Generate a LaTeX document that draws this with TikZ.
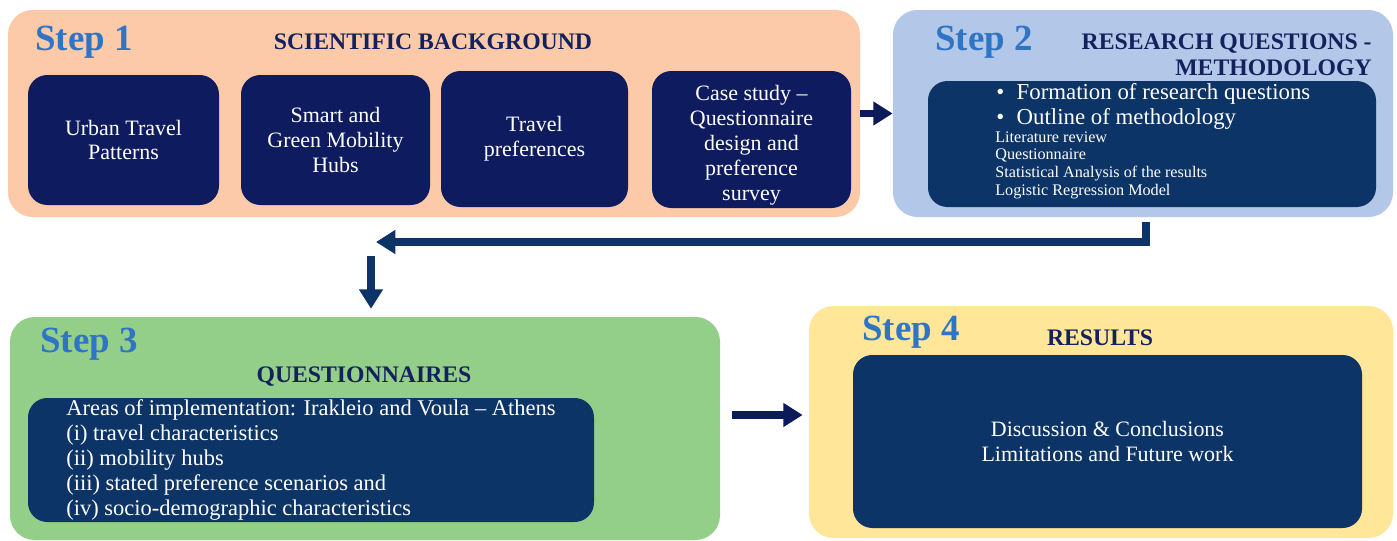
\documentclass[tikz,border=0pt]{standalone}
\usepackage{fontspec}
\setmainfont{Liberation Serif}
\usetikzlibrary{arrows.meta, positioning, fit, calc}
\definecolor{stepblue}{HTML}{2F75C5}
\definecolor{deepnavy}{HTML}{0E1B5E}
\definecolor{boxnavy}{HTML}{0D3466}
\definecolor{headnavy}{HTML}{14215C}
\definecolor{peachbg}{HTML}{FDCAA9}
\definecolor{skybg}{HTML}{B3C7E8}
\definecolor{greenbg}{HTML}{94CF8A}
\definecolor{yellowbg}{HTML}{FFE699}
\definecolor{arrownavy}{HTML}{0C1A5A}

\tikzset{
  phase/.style={rounded corners=14pt, inner sep=0pt, draw=none, fill=#1},
  tile/.style={rounded corners=11pt, inner sep=0pt, fill=#1},
  tiletext/.style={inner sep=0pt, text=white, align=center,
    font=\fontsize{12.5}{14.2}\selectfont},
  steplabel/.style={anchor=west, text=stepblue, inner sep=0pt,
    font=\bfseries\fontsize{21}{24}\selectfont},
  heading/.style={text=headnavy, inner sep=0pt, font=\bfseries\fontsize{13.5}{15.3}\selectfont},
  flowarrow/.style={draw=#1, line width=4.4pt, -{Triangle[length=11pt,width=13pt]}},
  flowarrow/.default=arrownavy,
}

\begin{document}
\begin{tikzpicture}[x=0.02cm, y=-0.02cm]
  \fill[white] (0,0) rectangle (1397,541);
  \useasboundingbox (0,0) rectangle (1397,541);

  % Step 1: scientific background
  \node[phase=peachbg, fit={(8,10) (860,217)}] (s1) {};
  \node[steplabel] (s1lbl) at (35,42) {Step 1};
  \node[heading] (s1head) at (433,42) {SCIENTIFIC BACKGROUND};
  \node[tile=deepnavy, fit={(28,75) (219,205)}] (urban) {};
  \node[tile=deepnavy, fit={(241,75) (430,205)}] (hubs) {};
  \node[tile=deepnavy, fit={(441,71) (628,207)}] (prefs) {};
  \node[tile=deepnavy, fit={(652,71) (851,208)}] (survey) {};
  \node[tiletext] at (urban) {Urban Travel\\Patterns};
  \node[tiletext] at (hubs) {Smart and\\Green Mobility\\Hubs};
  \node[tiletext] at (prefs) {Travel\\preferences};
  \node[tiletext] at ($(survey)+(0,6)$) {Case study --\\Questionnaire\\design and\\preference\\survey};

  % Step 2: research questions and methodology
  \node[phase=skybg, fit={(893,10) (1393,217)}] (s2) {};
  \node[steplabel] (s2lbl) at (935,42) {Step 2};
  \node[heading, anchor=north east, align=right] (s2head) at (1372,33)
    {RESEARCH QUESTIONS -\\METHODOLOGY};
  \node[tile=boxnavy, fit={(928,81) (1376,207)}] (method) {};
  \node[anchor=north west, inner sep=0pt, text=white, align=left,
    font=\fontsize{13}{14.2}\selectfont] (bullets) at (996,83)
    {\textbullet\hspace{7pt}Formation of research questions\\
     \textbullet\hspace{7pt}Outline of methodology};
  \node[anchor=north west, inner sep=0pt, text=white, align=left,
    font=\fontsize{9.2}{10.2}\selectfont] (steps) at (995,131)
    {Literature review\\Questionnaire\\Statistical Analysis of the results\\Logistic Regression Model};

  % Step 3: questionnaires
  \node[phase=greenbg, fit={(10,317) (720,540)}] (s3) {};
  \node[steplabel] (s3lbl) at (40,344) {Step 3};
  \node[heading] (s3head) at (364,377) {QUESTIONNAIRES};
  \node[tile=boxnavy, fit={(28,398) (594,522)}] (areas) {};
  \node[tiletext, align=left, font=\fontsize{12.8}{14.2}\selectfont] at (areas)
    {Areas of implementation: Irakleio and Voula -- Athens\\
     (i) travel characteristics\\
     (ii) mobility hubs\\
     (iii) stated preference scenarios and\\
     (iv) socio-demographic characteristics};

  % Step 4: results
  \node[phase=yellowbg, fit={(809,306) (1393,538)}] (s4) {};
  \node[steplabel] (s4lbl) at (862,332) {Step 4};
  \node[heading] (s4head) at (1100,338) {RESULTS};
  \node[tile=boxnavy, fit={(853,355) (1362,528)}] (results) {};
  \node[tiletext] at (results) {Discussion \& Conclusions\\Limitations and Future work};

  % connectors between the steps
  \coordinate (turn) at (1146,242);
  \coordinate (loopEnd) at (376,242);
  \coordinate (dropTop) at (371,256);
  \coordinate (midRow) at (768,415);
  \draw[flowarrow] (s1) -- (s2);
  \draw[flowarrow=boxnavy, shorten <=2.8pt] (s2.south -| turn) -- (turn) -- (loopEnd);
  \draw[flowarrow=boxnavy, shorten >=4.5pt] (dropTop) -- (s3.north -| dropTop);
  \draw[flowarrow, shorten <=6.8pt, shorten >=3.4pt] (s3.east |- midRow) -- (s4.west |- midRow);
\end{tikzpicture}
\end{document}
